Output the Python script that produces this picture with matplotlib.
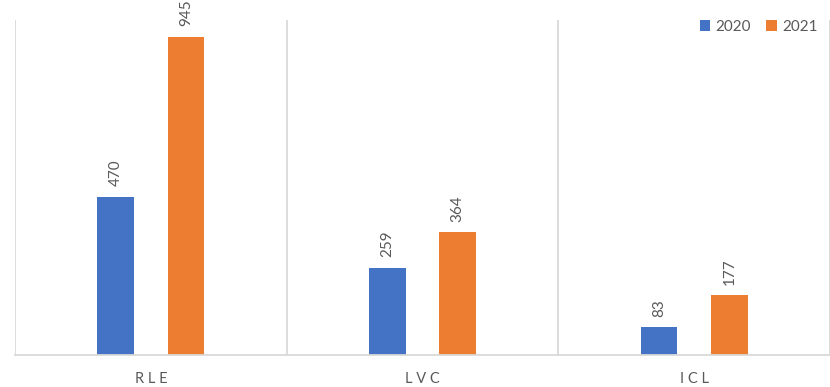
import numpy as np
import matplotlib
matplotlib.use("Agg")
import matplotlib.pyplot as plt

plt.rcParams['font.family'] = ['Lato', 'DejaVu Sans']

# data
categories = ["RLE", "LVC", "ICL"]
series_names = ["2020", "2021"]
values_2020 = [470, 259, 83]
values_2021 = [945, 364, 177]

blue = "#4472C4"
orange = "#ED7D31"
grey_text = "#595959"
grid_grey = "#D9D9D9"

W, H = 830, 387
fig = plt.figure(figsize=(W / 100, H / 100), dpi=100)

# plot area in pixels: left 15, bottom line at y=355, top at y=20, category width ~273.5
cat_w = 273.5
left_px, right_px = 15, 830
ax = fig.add_axes([left_px / W, (H - 355) / H, (right_px - left_px) / W, 335 / H])

x = np.arange(len(categories)) + 0.5
off = 35.5 / cat_w
bw = 37 / cat_w

b1 = ax.bar(x - off, values_2020, width=bw, color=blue, label=series_names[0])
b2 = ax.bar(x + off, values_2021, width=bw, color=orange, label=series_names[1])

# value labels, rotated like the original
for bars, vals in ((b1, values_2020), (b2, values_2021)):
    for rect, v in zip(bars, vals):
        ax.annotate(str(v), (rect.get_x() + rect.get_width() / 2, rect.get_height()),
                    xytext=(0, 7.5), textcoords="offset points",
                    rotation=90, ha="center", va="bottom",
                    fontsize=11, color=grey_text)

ax.set_xlim(0, (right_px - left_px) / cat_w)
ax.set_ylim(0, 995)

# category separators
ax.set_xticks(np.arange(len(categories) + 1), minor=True)
ax.grid(which="minor", axis="x", color=grid_grey, linewidth=1.3)
ax.set_axisbelow(True)

ax.set_xticks(x)
ax.set_xticklabels([" ".join(c) for c in categories], fontsize=10.5, color=grey_text)
ax.tick_params(axis="x", which="both", length=0, pad=12)
ax.set_yticks([])

for s in ("top", "right", "left"):
    ax.spines[s].set_visible(False)
ax.spines["bottom"].set_color(grid_grey)
ax.spines["bottom"].set_linewidth(1.3)

leg = fig.legend(loc="center right", bbox_to_anchor=(818 / W, 1 - 27 / H),
                 ncol=2, frameon=False, fontsize=11, handlelength=0.7,
                 handleheight=0.7, handletextpad=0.35, columnspacing=1.0,
                 borderaxespad=0, borderpad=0)
for t in leg.get_texts():
    t.set_color(grey_text)

fig.savefig("out.png", dpi=100)
